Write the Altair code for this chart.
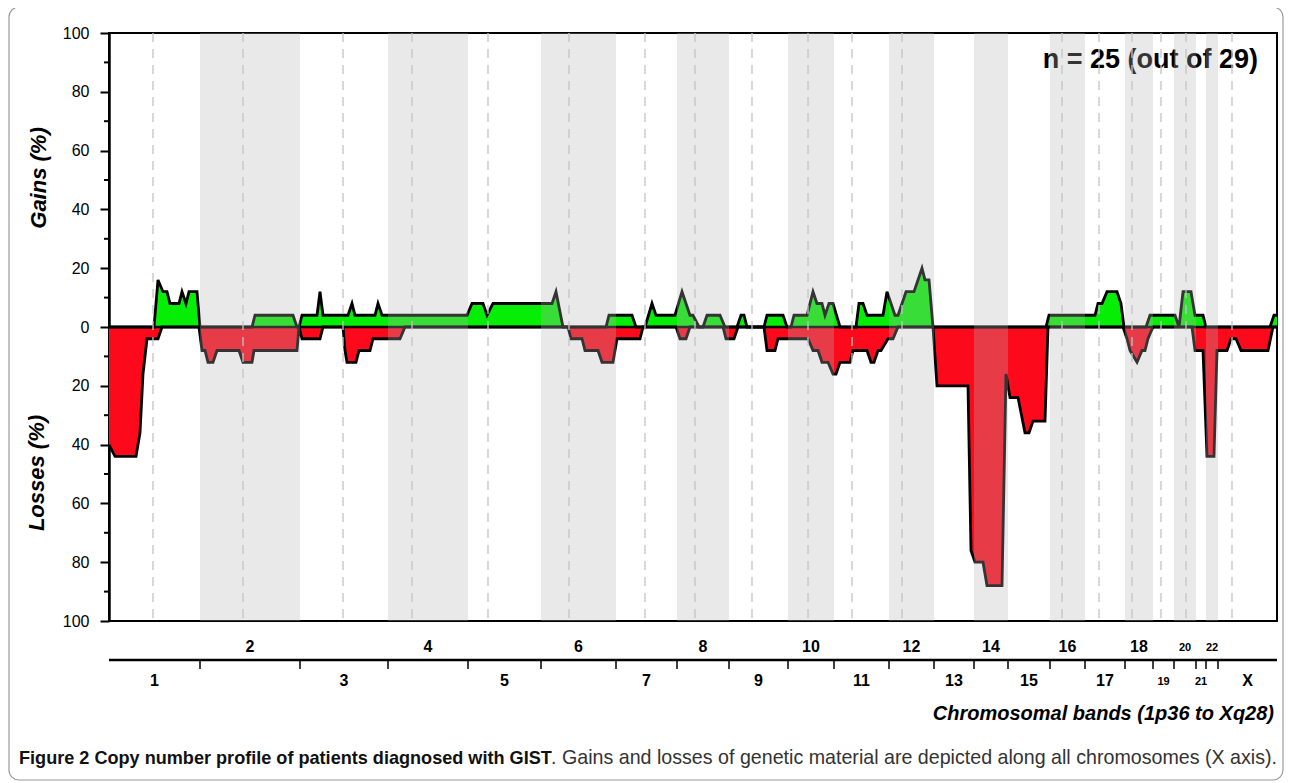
import altair as alt
import pandas as pd

# ---------------- data ----------------
chrom_names = ["1", "2", "3", "4", "5", "6", "7", "8", "9", "10", "11", "12",
               "13", "14", "15", "16", "17", "18", "19", "20", "21", "22", "X"]
# chromosome boundaries along the band axis (1p36 -> Xq28)
chrom_bounds = [0, 91, 191, 279, 359, 432, 507, 568, 620, 679, 725, 780, 825,
                865, 899, 941, 976, 1016, 1044, 1065, 1087, 1097, 1109, 1168]
# centromere positions (dashed lines)
centromeres = [44, 134, 234, 303, 379, 460, 536, 586, 643, 699, 743, 793,
               953, 990, 1023, 1052, 1077, 1123]

gain_pos = [0, 45, 49, 54, 58, 61, 70, 73, 77, 80, 88, 91,
            143, 146, 184, 188,
            190, 193, 208, 211, 214, 239, 243, 246, 266, 269, 273,
            358, 363, 374, 378, 384, 443, 447, 454,
            497, 500, 523, 527,
            536, 543, 547, 566, 573, 581, 584, 590,
            594, 598, 611, 616,
            628, 632, 635, 638,
            655, 658, 674, 678,
            682, 685, 698, 704, 708, 713, 716, 720, 724, 731,
            747, 750, 754, 758, 774, 778, 786, 789,
            797, 805, 813, 816, 820, 824,
            937, 940, 986, 989, 993, 998, 1008, 1012, 1015,
            1037, 1041, 1066, 1070, 1074, 1082, 1086, 1094, 1097,
            1161, 1165, 1168]
gain_val = [0, 0, 16, 12, 12, 8, 8, 12, 8, 12, 12, 0,
            0, 4, 4, 0,
            0, 4, 4, 12, 4, 4, 8, 4, 4, 8, 4,
            4, 8, 8, 4, 8, 8, 12, 0,
            0, 4, 4, 0,
            0, 8, 4, 4, 12, 4, 4, 0,
            0, 4, 4, 0,
            0, 4, 4, 0,
            0, 4, 4, 0,
            0, 4, 4, 12, 8, 8, 4, 8, 8, 0,
            0, 8, 8, 4, 4, 12, 4, 4,
            12, 12, 20, 16, 16, 0,
            0, 4, 4, 8, 8, 12, 12, 8, 0,
            0, 4, 4, 0, 12, 12, 4, 4, 0,
            0, 4, 4]

loss_pos = [0, 6, 27, 31, 34, 38, 49, 53,
            90, 93, 96, 99, 104, 108, 130, 134, 143, 145, 188, 190, 193, 211, 214,
            234, 236, 238, 247, 250, 261, 264, 291, 296,
            459, 462, 473, 476, 489, 493, 504, 508, 531, 534,
            567, 571, 577, 581,
            614, 617, 625, 629,
            655, 658, 666, 669, 699, 704, 709, 713, 719, 724, 727, 731, 741, 744,
            758, 762, 765, 769, 772, 779, 784, 789,
            824, 828, 859, 862, 866, 874, 878, 893, 897, 901, 909, 916, 920, 924, 936, 939,
            1014, 1018, 1021, 1028, 1033, 1036, 1039, 1044,
            1083, 1086, 1094, 1098, 1105, 1108, 1118, 1122, 1127, 1132, 1159, 1164, 1168]
loss_val = [40, 44, 44, 36, 16, 4, 4, 0,
            0, 8, 8, 12, 12, 8, 8, 12, 12, 8, 8, 0, 4, 4, 0,
            0, 8, 12, 12, 8, 8, 4, 4, 0,
            0, 4, 4, 8, 8, 12, 12, 4, 4, 0,
            0, 4, 4, 0,
            0, 4, 4, 0,
            0, 8, 8, 4, 4, 8, 8, 12, 12, 16, 16, 12, 12, 8,
            8, 12, 12, 8, 8, 4, 4, 0,
            0, 20, 20, 76, 80, 80, 88, 88, 16, 24, 24, 36, 36, 32, 32, 0,
            0, 4, 8, 12, 8, 8, 4, 0,
            0, 8, 8, 44, 44, 8, 8, 4, 4, 8, 8, 0, 0]

y_major = [-100, -80, -60, -40, -20, 0, 20, 40, 60, 80, 100]
y_minor = [-90, -70, -50, -30, -10, 10, 30, 50, 70, 90]

assert len(gain_pos) == len(gain_val)
assert len(loss_pos) == len(loss_val)

# ---------------- styling ----------------
W, H = 1168, 588
FONT = "Liberation Sans"
GREEN = "#06ee06"
RED = "#fc0a1c"

gains = pd.DataFrame({"pos": gain_pos, "val": gain_val})
losses = pd.DataFrame({"pos": loss_pos, "val": [-v for v in loss_val]})
chrom = pd.DataFrame({"name": chrom_names,
                      "start": chrom_bounds[:-1],
                      "end": chrom_bounds[1:]})
chrom["idx"] = range(1, len(chrom_names) + 1)
chrom["mid"] = (chrom["start"] + chrom["end"]) / 2
chrom["small"] = chrom["name"].isin(["19", "20", "21", "22"])
chrom["upper"] = chrom["idx"] % 2 == 0
shaded = chrom[chrom["upper"] & (chrom["name"] != "X")]
inner = pd.DataFrame({"b": chrom_bounds[1:-1]})
cent = pd.DataFrame({"c": centromeres})
minor = pd.DataFrame({"v": y_minor})
one = pd.DataFrame({"a": [0]})

xs = alt.Scale(domain=[0, W], nice=False, zero=False)
ys = alt.Scale(domain=[-100, 100], nice=False)
yax = alt.Axis(values=y_major, labelExpr="abs(datum.value)", tickSize=9, tickWidth=2,
               tickColor="black", domainColor="black", domainWidth=2.5,
               labelFont=FONT, labelFontSize=16, labelColor="black", labelPadding=11,
               grid=False, title=None)


def X(field):
    return alt.X(field, scale=xs, axis=None)


def Y(field):
    return alt.Y(field, scale=ys, axis=yax)


n_text = alt.Chart(one).mark_text(text="n = 25 (out of 29)", font=FONT, fontSize=27,
                                  fontWeight="bold", align="right", baseline="middle",
                                  color="black").encode(x=alt.value(1149), y=alt.value(27))

area_g = alt.Chart(gains).mark_area(color=GREEN, interpolate="linear").encode(x=X("pos:Q"), y=Y("val:Q"))
area_l = alt.Chart(losses).mark_area(color=RED, interpolate="linear").encode(x=X("pos:Q"), y=Y("val:Q"))
line_g = alt.Chart(gains).mark_line(color="black", strokeWidth=2.8, strokeJoin="miter").encode(x=X("pos:Q"), y=Y("val:Q"))
line_l = alt.Chart(losses).mark_line(color="black", strokeWidth=2.8, strokeJoin="miter").encode(x=X("pos:Q"), y=Y("val:Q"))
zero = alt.Chart(one).mark_rule(color="black", strokeWidth=2.4).encode(y=alt.Y("a:Q", scale=ys, axis=yax))

bands = alt.Chart(shaded).mark_rect(color="#b2b2b2", opacity=0.29).encode(x=X("start:Q"), x2="end:Q")
dashes = alt.Chart(cent).mark_rule(color="#c4c4c4", strokeWidth=1.3, strokeDash=[9, 7]).encode(x=X("c:Q"))

minor_ticks = alt.Chart(minor).mark_rule(color="black", strokeWidth=2).encode(
    y=alt.Y("v:Q", scale=ys, axis=yax), x=alt.value(-5), x2=alt.value(0))

gains_title = alt.Chart(one).mark_text(text="Gains (%)", font=FONT, fontSize=22, fontWeight="bold",
                                       fontStyle="italic", angle=270, align="center", baseline="middle",
                                       color="black").encode(x=alt.value(-70), y=alt.value(145))
loss_title = alt.Chart(one).mark_text(text="Losses (%)", font=FONT, fontSize=22, fontWeight="bold",
                                      fontStyle="italic", angle=270, align="center", baseline="middle",
                                      color="black").encode(x=alt.value(-72), y=alt.value(440))

# chromosome axis below the plot
chr_line = alt.Chart(one).mark_rule(color="black", strokeWidth=2.5).encode(
    x=alt.value(0), x2=alt.value(W), y=alt.value(627))
chr_ticks = alt.Chart(inner).mark_rule(color="black", strokeWidth=1.5).encode(
    x=X("b:Q"), y=alt.value(627), y2=alt.value(636))


def chr_labels(upper, small, yv, size):
    return alt.Chart(chrom).transform_filter(
        f"datum.upper == {str(upper).lower()} && datum.small == {str(small).lower()}"
    ).mark_text(font=FONT, fontSize=size, fontWeight="bold", color="black",
                baseline="middle", align="center").encode(x=X("mid:Q"), y=alt.value(yv), text="name:N")


lab_u = chr_labels(True, False, 614, 16)
lab_l = chr_labels(False, False, 648, 16)
lab_us = chr_labels(True, True, 615, 11)
lab_ls = chr_labels(False, True, 649, 11)

x_title = alt.Chart(one).mark_text(text="Chromosomal bands (1p36 to Xq28)", font=FONT, fontSize=20,
                                   fontWeight="bold", fontStyle="italic", align="right",
                                   baseline="middle", color="black").encode(x=alt.value(1165), y=alt.value(681))

cap_bold = alt.Chart(one).mark_text(text="Figure 2 Copy number profile of patients diagnosed with GIST",
                                    font=FONT, fontSize=18.1, fontWeight="bold", align="left",
                                    baseline="alphabetic", color="#111").encode(x=alt.value(-90), y=alt.value(731))
cap_reg = alt.Chart(one).mark_text(text=". Gains and losses of genetic material are depicted along all chromosomes (X axis).",
                                   font=FONT, fontSize=19.65, align="right",
                                   baseline="alphabetic", color="#333").encode(x=alt.value(1168), y=alt.value(731))

border = alt.Chart(one).mark_rect(filled=False, stroke="#9a9a9a", strokeWidth=1.2, cornerRadius=10).encode(
    x=alt.value(-100), x2=alt.value(1174), y=alt.value(-26), y2=alt.value(747))

chart = alt.layer(
    n_text, area_g, area_l, line_g, line_l, zero, bands, dashes, minor_ticks,
    gains_title, loss_title, chr_line, chr_ticks, lab_u, lab_l, lab_us, lab_ls,
    x_title, cap_bold, cap_reg, border
).properties(
    width=W, height=H, autosize="none",
    padding={"left": 101, "top": 25, "right": 7, "bottom": 160},
    background="white"
).configure_view(stroke="black", strokeWidth=2)

chart.save("out.html", embed_options={"renderer": "svg", "actions": False})
